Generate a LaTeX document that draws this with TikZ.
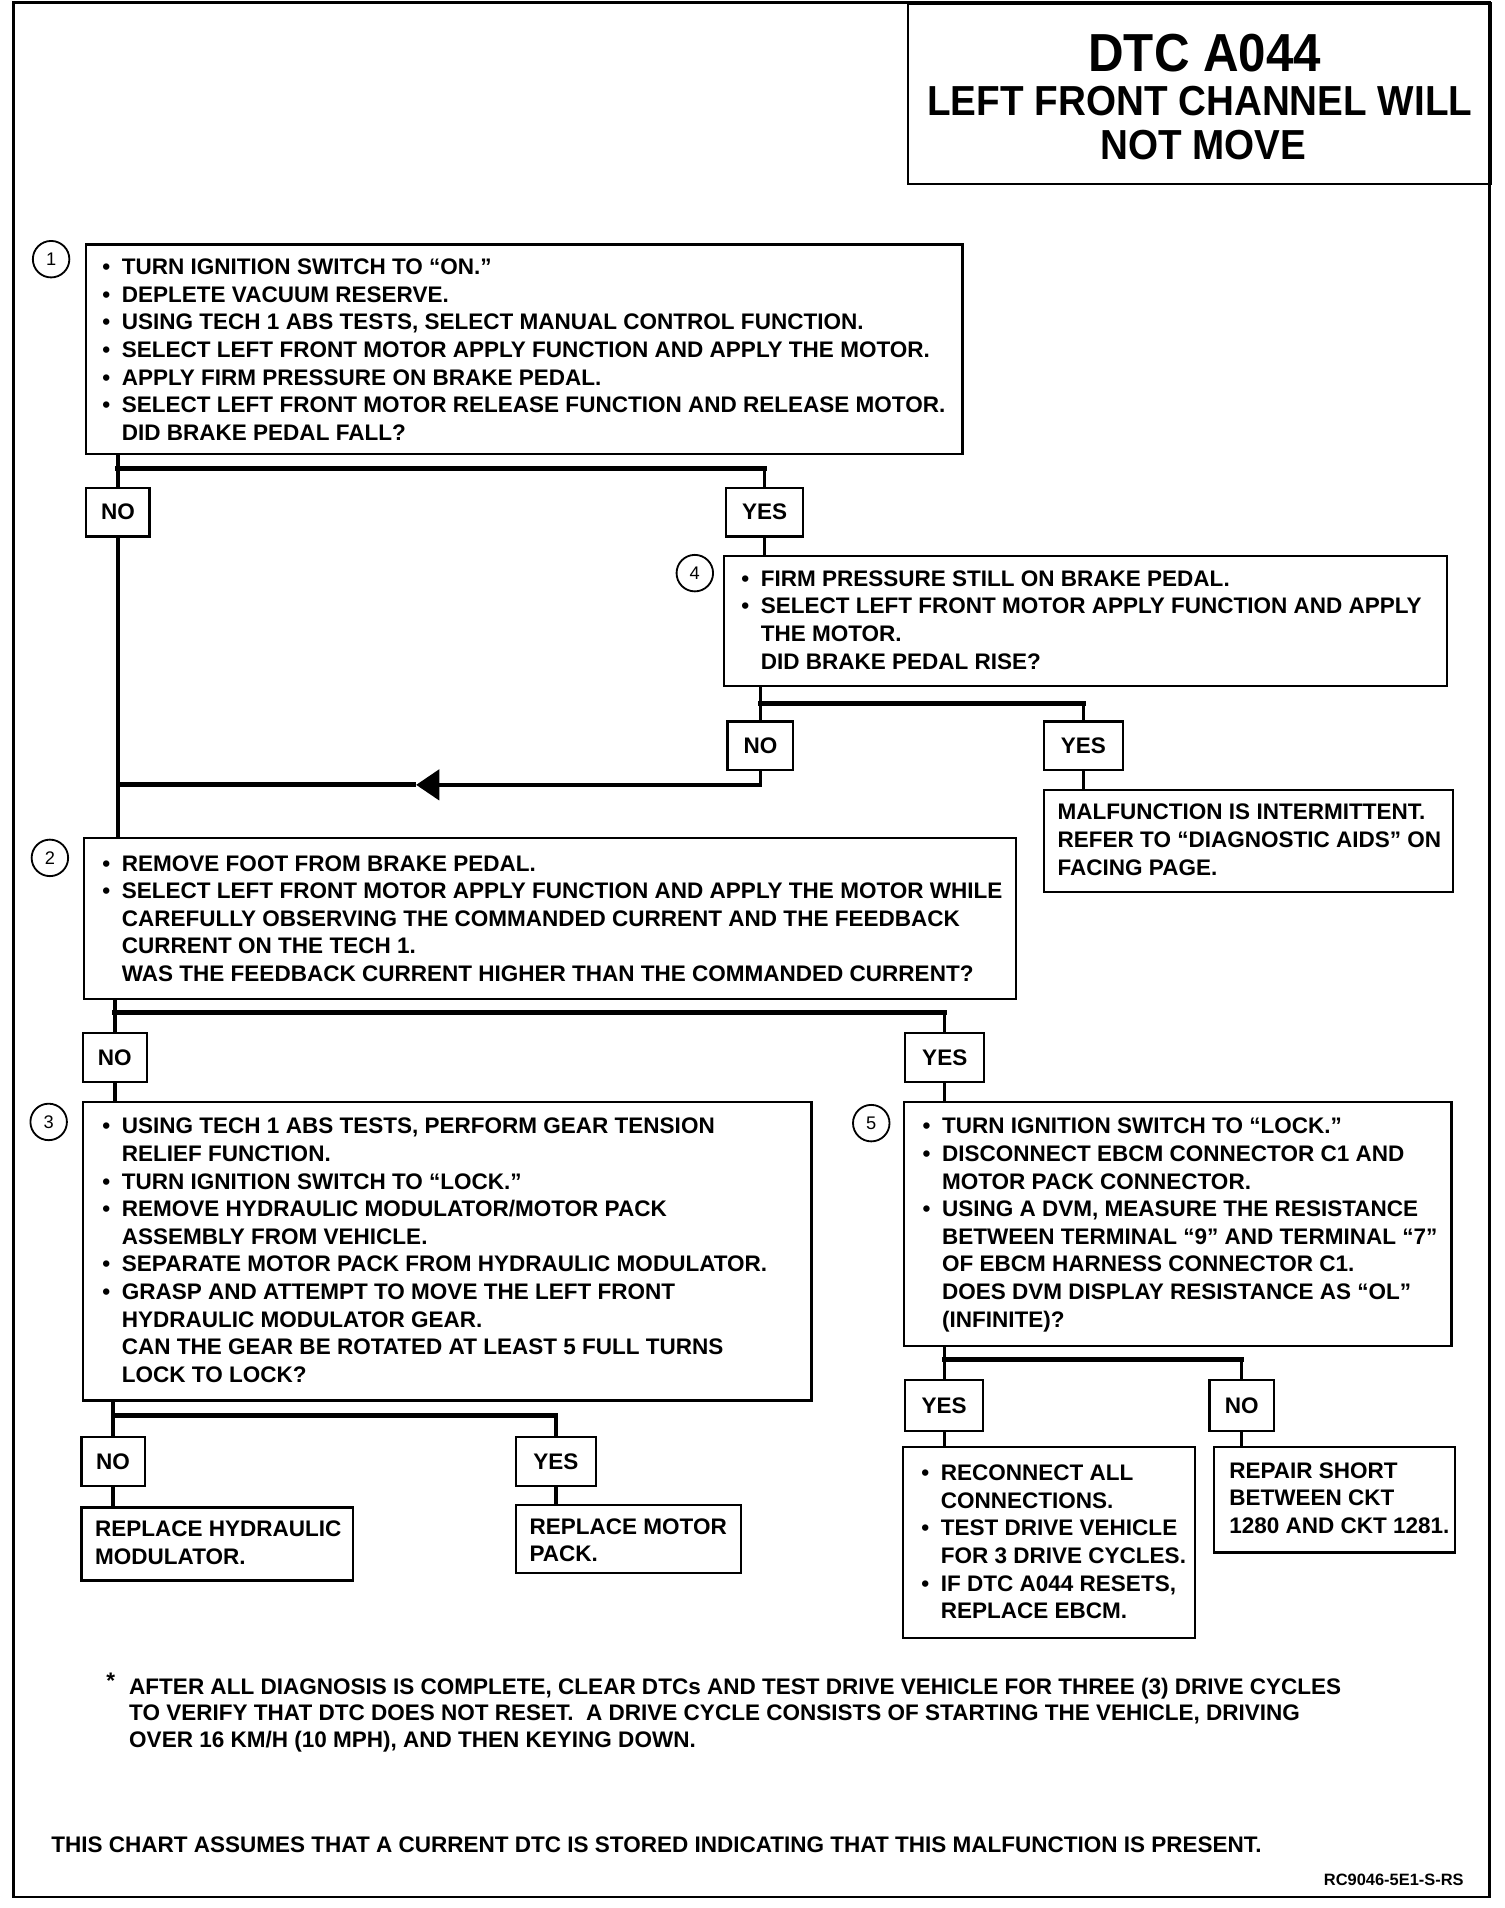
\documentclass[tikz,border=0pt]{standalone}
\usepackage{fontspec}
\setmainfont{Liberation Sans}
\newfontfamily\titlefont{Liberation Sans}[FakeStretch=0.92]
\usetikzlibrary{arrows.meta}
\newcommand\bodyfont{\fontsize{18.5}{22.7}\selectfont\bfseries}
\newcommand\footfont{\fontsize{18.5}{22}\selectfont\bfseries}
\newcommand\bu{\strut\makebox[16pt][l]{•}}
\newcommand\ct{\strut\hspace*{16pt}}
\newcommand\branch[4]{%
  \coordinate (jy#1) at (0,#4);
  \draw[conn] (#1.south -| #2.north) -- (#2.north);
  \draw[conn] (jy#1 -| #3.north) -- (#3.north);
  \draw[bar] (jy#1 -| #2.north) -- (jy#1 -| #3.north);}
\tikzset{
  boxx/.style={draw, line width=1.8pt, inner sep=0pt, anchor=north west},
  lbl/.style={draw, line width=1.8pt, inner sep=0pt, anchor=north west, font=\bodyfont},
  txt/.style={inner sep=0pt, anchor=north west, align=left, font=\bodyfont},
  conn/.style={line width=2.7pt},
  bar/.style={line width=4pt, line cap=rect},
  num/.style={circle, draw, line width=1.5pt, minimum size=30pt, inner sep=0pt, font=\fontsize{15}{15}\selectfont}
}
\begin{document}
\begin{tikzpicture}[x=1pt, y=-1pt]
\useasboundingbox (0,0) rectangle (1236,1568);
% outer frame
\draw[line width=2.2pt] (11,2) rectangle (1224,1559);
% title
\node[boxx, minimum width=479pt, minimum height=148pt] (title) at (745,2) {};
\node[font=\titlefont\fontsize{44}{44}\selectfont\bfseries, inner sep=0pt] (tl1) at (990,44) {DTC A044};
\node[font=\titlefont\fontsize{34.5}{34.5}\selectfont\bfseries, inner sep=0pt] (tl2) at (986,83) {LEFT FRONT CHANNEL WILL};
\node[font=\titlefont\fontsize{34.5}{34.5}\selectfont\bfseries, inner sep=0pt] (tl3) at (989,119.5) {NOT MOVE};

% step boxes
\node[boxx, minimum width=720pt, minimum height=172pt] (b1) at (70,200) {};
\node[boxx, minimum width=594pt, minimum height=107pt] (b4) at (594,456) {};
\node[boxx, minimum width=336pt, minimum height=84pt] (bm) at (857,648) {};
\node[boxx, minimum width=766pt, minimum height=132pt] (b2) at (68,688) {};
\node[boxx, minimum width=599pt, minimum height=245pt] (b3) at (67,905) {};
\node[boxx, minimum width=450pt, minimum height=200pt] (b5) at (742,905) {};
\node[boxx, minimum width=223pt, minimum height=60pt] (bh) at (66,1238) {};
\node[boxx, minimum width=185pt, minimum height=56pt] (bp) at (423,1236) {};
\node[boxx, minimum width=240pt, minimum height=157pt] (br) at (741,1188) {};
\node[boxx, minimum width=198pt, minimum height=87pt] (bs) at (997,1188) {};

% numbers
\node[num] (c1) at (42,213) {1};
\node[num] (c4) at (571,471) {4};
\node[num] (c2) at (41,705) {2};
\node[num] (c3) at (40,922) {3};
\node[num] (c5) at (716,923) {5};

% labels
\node[lbl, minimum width=52pt, minimum height=40pt] (no1) at (70,400) {NO};
\node[lbl, minimum width=63pt, minimum height=40pt] (yes1) at (596,400) {YES};
\node[lbl, minimum width=54pt, minimum height=40pt] (no4) at (597,592) {NO};
\node[lbl, minimum width=65pt, minimum height=40pt] (yes4) at (857,592) {YES};
\node[lbl, minimum width=53pt, minimum height=40pt] (no2) at (67,848) {NO};
\node[lbl, minimum width=65pt, minimum height=40pt] (yes2) at (743,848) {YES};
\node[lbl, minimum width=52pt, minimum height=40pt] (no3) at (66,1180) {NO};
\node[lbl, minimum width=66pt, minimum height=40pt] (yes3) at (423,1180) {YES};
\node[lbl, minimum width=64pt, minimum height=42pt] (yes5) at (743,1133) {YES};
\node[lbl, minimum width=53pt, minimum height=42pt] (no5) at (993,1133) {NO};

% texts
\node[txt] (t1) at (84,209.7) {\bu TURN IGNITION SWITCH TO “ON.”\\
\bu DEPLETE VACUUM RESERVE.\\
\bu USING TECH 1 ABS TESTS, SELECT MANUAL CONTROL FUNCTION.\\
\bu SELECT LEFT FRONT MOTOR APPLY FUNCTION AND APPLY THE MOTOR.\\
\bu APPLY FIRM PRESSURE ON BRAKE PEDAL.\\
\bu SELECT LEFT FRONT MOTOR RELEASE FUNCTION AND RELEASE MOTOR.\\
\ct DID BRAKE PEDAL FALL?};

\node[txt] (t4) at (609,465.7) {\bu FIRM PRESSURE STILL ON BRAKE PEDAL.\\
\bu SELECT LEFT FRONT MOTOR APPLY FUNCTION AND APPLY\\
\ct THE MOTOR.\\
\ct DID BRAKE PEDAL RISE?};

\node[txt] (tm) at (869,657.7) {\strut MALFUNCTION IS INTERMITTENT.\\
\strut REFER TO “DIAGNOSTIC AIDS” ON\\
\strut FACING PAGE.};

\node[txt] (t2) at (84,699.7) {\bu REMOVE FOOT FROM BRAKE PEDAL.\\
\bu SELECT LEFT FRONT MOTOR APPLY FUNCTION AND APPLY THE MOTOR WHILE\\
\ct CAREFULLY OBSERVING THE COMMANDED CURRENT AND THE FEEDBACK\\
\ct CURRENT ON THE TECH 1.\\
\ct WAS THE FEEDBACK CURRENT HIGHER THAN THE COMMANDED CURRENT?};

\node[txt] (t3) at (84,915.7) {\bu USING TECH 1 ABS TESTS, PERFORM GEAR TENSION\\
\ct RELIEF FUNCTION.\\
\bu TURN IGNITION SWITCH TO “LOCK.”\\
\bu REMOVE HYDRAULIC MODULATOR/MOTOR PACK\\
\ct ASSEMBLY FROM VEHICLE.\\
\bu SEPARATE MOTOR PACK FROM HYDRAULIC MODULATOR.\\
\bu GRASP AND ATTEMPT TO MOVE THE LEFT FRONT\\
\ct HYDRAULIC MODULATOR GEAR.\\
\ct CAN THE GEAR BE ROTATED AT LEAST 5 FULL TURNS\\
\ct LOCK TO LOCK?};

\node[txt] (t5) at (758,915.7) {\bu TURN IGNITION SWITCH TO “LOCK.”\\
\bu DISCONNECT EBCM CONNECTOR C1 AND\\
\ct MOTOR PACK CONNECTOR.\\
\bu USING A DVM, MEASURE THE RESISTANCE\\
\ct BETWEEN TERMINAL “9” AND TERMINAL “7”\\
\ct OF EBCM HARNESS CONNECTOR C1.\\
\ct DOES DVM DISPLAY RESISTANCE AS “OL”\\
\ct (INFINITE)?};

\node[txt] (th) at (78,1246.7) {\strut REPLACE HYDRAULIC\\ \strut MODULATOR.};
\node[txt] (tp) at (435,1244.7) {\strut REPLACE MOTOR\\ \strut PACK.};

\node[txt] (tr) at (757,1200.7) {\bu RECONNECT ALL\\
\ct CONNECTIONS.\\
\bu TEST DRIVE VEHICLE\\
\ct FOR 3 DRIVE CYCLES.\\
\bu IF DTC A044 RESETS,\\
\ct REPLACE EBCM.};

\node[txt] (ts) at (1010,1198.7) {\strut REPAIR SHORT\\ \strut BETWEEN CKT\\ \strut 1280 AND CKT 1281.};

% footnotes
\node[font=\footfont, inner sep=0pt] (star) at (91,1381) {*};
\node[txt, font=\footfont] (tf) at (106,1376.7) {\strut AFTER ALL DIAGNOSIS IS COMPLETE, CLEAR DTCs AND TEST DRIVE VEHICLE FOR THREE (3) DRIVE CYCLES\\
\strut TO VERIFY THAT DTC DOES NOT RESET.~~A DRIVE CYCLE CONSISTS OF STARTING THE VEHICLE, DRIVING\\
\strut OVER 16 KM/H (10 MPH), AND THEN KEYING DOWN.};
\node[inner sep=0pt, anchor=base west, font=\footfont] (tc) at (42,1522.6) {THIS CHART ASSUMES THAT A CURRENT DTC IS STORED INDICATING THAT THIS MALFUNCTION IS PRESENT.};
\node[inner sep=0pt, anchor=base east, font=\fontsize{13.5}{13.5}\selectfont\bfseries] (rc) at (1203,1549.8) {RC9046-5E1-S-RS};

% connectors
\branch{b1}{no1}{yes1}{385}
\branch{b4}{no4}{yes4}{578}
\branch{b2}{no2}{yes2}{832}
\branch{b3}{no3}{yes3}{1163}
\branch{b5}{yes5}{no5}{1117}

\draw[conn] (no1.south) -- (no1.south |- b2.north);
\draw[conn] (yes1.south) -- (yes1.south |- b4.north);
\draw[conn] (yes4.south) -- (yes4.south |- bm.north);
\draw[conn] (no2.south) -- (no2.south |- b3.north);
\draw[conn] (yes2.south) -- (yes2.south |- b5.north);
\draw[conn] (no3.south) -- (no3.south |- bh.north);
\draw[conn] (yes3.south) -- (yes3.south |- bp.north);
\draw[conn] (yes5.south) -- (yes5.south |- br.north);
\draw[conn] (no5.south) -- (no5.south |- bs.north);

\coordinate (ret) at (342,645);
\draw[conn, line join=miter, -{Triangle[length=19pt,width=25pt]}] (no4.south) |- (ret);
\draw[bar, line cap=butt] (ret) -- (ret -| no1.south);
\end{tikzpicture}
\end{document}
